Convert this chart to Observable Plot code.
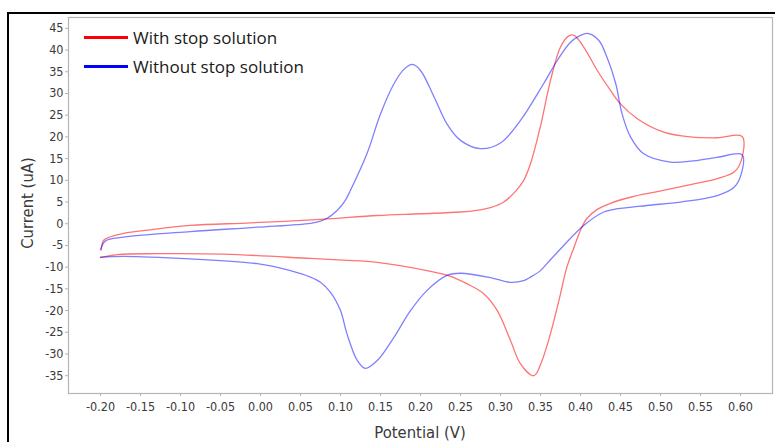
<!DOCTYPE html>
<html>
<head>
<meta charset="utf-8">
<script src="https://cdn.jsdelivr.net/npm/d3@7"></script>
<script src="https://cdn.jsdelivr.net/npm/@observablehq/plot@0.6"></script>
<style>
  html, body { margin: 0; padding: 0; background: #fff; }
  #wrap { position: relative; width: 775px; height: 442px; overflow: hidden; }
  #outer { position: absolute; left: 7px; top: 12px; width: 800px; height: 500px; border: 2px solid #000; box-sizing: border-box; }
  #chart { position: absolute; left: 0; top: 0; }
  .legend { position: absolute; left: 84px; font-family: "Open Sans", sans-serif; font-size: 17px; color: #1a1a1a; display: flex; align-items: center; }
  .legend span.sw { display: inline-block; width: 44px; height: 3px; margin-right: 5px; }
  .axt { position: absolute; font-family: "DejaVu Sans Condensed", "Liberation Sans", sans-serif; font-size: 16.5px; color: #3a3a3a; white-space: nowrap; }
</style>
</head>
<body>
<div id="wrap">
  <div id="outer"></div>
  <div id="chart"></div>
  <div class="legend" style="top:26px"><span class="sw" style="background:#ff0000"></span>With stop solution</div>
  <div class="legend" style="top:55px"><span class="sw" style="background:#0000ff"></span>Without stop solution</div>
  <div class="axt" id="xlab" style="left:420px; top:432px; transform: translate(-50%,-50%);">Potential (V)</div>
  <div class="axt" id="ylab" style="left:27px; top:203px; transform: translate(-50%,-50%) rotate(-90deg);">Current (uA)</div>
</div>
<script>
// Series names
const seriesNames = ["With stop solution", "Without stop solution"];

// With stop solution (red): potential (V), current (uA), in scan order
const redV = [-0.199, -0.196, -0.1875, -0.171, -0.1375, -0.0875, -0.0125, 0.075, 0.146, 0.200, 0.250, 0.275, 0.2875, 0.304, 0.319, 0.329, 0.3375, 0.350, 0.3625, 0.375, 0.385, 0.392, 0.404, 0.421, 0.4375, 0.450, 0.471, 0.504, 0.5375, 0.571, 0.602,
  0.601, 0.592, 0.571, 0.5375, 0.496, 0.4625, 0.4375, 0.421, 0.408, 0.400, 0.392, 0.383, 0.373, 0.3625, 0.352, 0.344, 0.340, 0.325, 0.3125, 0.296, 0.279, 0.258, 0.2375, 0.208, 0.146, 0.104, 0.0625, -0.046, -0.129, -0.179, -0.198, -0.200];
const redI = [-6.0, -3.8, -3.0, -2.2, -1.4, -0.4, 0.2, 1.0, 1.9, 2.3, 2.7, 3.2, 3.7, 5.0, 7.5, 10.0, 13.8, 22.5, 33.0, 40.7, 43.2, 43.4, 40.7, 35.3, 30.7, 27.6, 24.2, 21.1, 20.0, 19.8, 20.1,
  14.6, 11.9, 10.4, 9.0, 7.4, 6.1, 4.7, 3.3, 1.2, -1.5, -5.4, -10.0, -17.7, -25.3, -31.5, -34.7, -35.0, -32.3, -26.9, -20.0, -16.1, -13.8, -12.1, -10.8, -8.9, -8.4, -8.0, -7.0, -6.9, -7.1, -7.7, -7.8];

// Without stop solution (blue)
const blueV = [-0.200, -0.194, -0.171, -0.0875, -0.004, 0.0625, 0.075, 0.083, 0.096, 0.106, 0.1125, 0.133, 0.150, 0.167, 0.179, 0.190, 0.200, 0.217, 0.233, 0.250, 0.275, 0.300, 0.325, 0.354, 0.371, 0.3875, 0.400, 0.410, 0.423, 0.433, 0.444, 0.452, 0.4625, 0.479, 0.5125, 0.5375, 0.571, 0.602,
  0.601, 0.592, 0.571, 0.525, 0.483, 0.442, 0.429, 0.404, 0.379, 0.358, 0.350, 0.3375, 0.329, 0.3125, 0.2875, 0.250, 0.233, 0.208, 0.1875, 0.167, 0.146, 0.131, 0.121, 0.108, 0.100, 0.0875, 0.075, 0.0625, 0.0375, -0.004, -0.0875, -0.171, -0.200];
const blueI = [-6.0, -4.0, -3.1, -1.8, -0.8, 0.1, 0.6, 1.2, 3.1, 5.4, 7.7, 16.1, 25.3, 32.3, 35.5, 36.7, 35.3, 29.2, 23.0, 19.2, 17.3, 18.6, 23.8, 32.3, 37.6, 41.8, 43.4, 43.8, 42.2, 38.4, 32.3, 25.3, 20.0, 16.1, 14.2, 14.4, 15.3, 15.9,
  11.5, 8.4, 6.5, 5.0, 4.2, 3.3, 2.7, -0.4, -5.0, -9.2, -10.8, -12.3, -13.1, -13.5, -12.4, -11.4, -11.9, -15.4, -20.0, -26.1, -31.5, -33.3, -31.5, -25.3, -20.0, -15.8, -13.5, -12.3, -10.8, -9.2, -8.1, -7.5, -7.7];

// Tick values
const xTicks = [-0.20, -0.15, -0.10, -0.05, 0.00, 0.05, 0.10, 0.15, 0.20, 0.25, 0.30, 0.35, 0.40, 0.45, 0.50, 0.55, 0.60];
const yTicks = [-35, -30, -25, -20, -15, -10, -5, 0, 5, 10, 15, 20, 25, 30, 35, 40, 45];

const red = redV.map((v, i) => ({V: v, I: redI[i], s: seriesNames[0]}));
const blue = blueV.map((v, i) => ({V: v, I: blueI[i], s: seriesNames[1]}));

const tickFont = {fontFamily: "'DejaVu Sans Condensed', 'Liberation Sans', sans-serif", fontSize: 12.5, fill: "#3a3a3a"};

const chart = Plot.plot({
  width: 775,
  height: 442,
  marginLeft: 68,
  marginRight: 3,
  marginTop: 17,
  marginBottom: 49,
  style: {background: "transparent", overflow: "visible"},
  x: {domain: [-0.24, 0.64]},
  y: {domain: [-39.1, 47.5]},
  marks: [
    Plot.frame({stroke: "#b4b4b4", strokeWidth: 1.2}),
    Plot.line(red, {x: "V", y: "I", stroke: "#ff0000", strokeOpacity: 0.55, strokeWidth: 1.3, curve: "catmull-rom"}),
    Plot.line(blue, {x: "V", y: "I", stroke: "#0000ff", strokeOpacity: 0.5, strokeWidth: 1.3, curve: "catmull-rom"}),
    Plot.axisX({ticks: xTicks, tickFormat: d => d.toFixed(2), tickSize: 3, tickPadding: 6, label: null, stroke: "#b4b4b4", ...tickFont}),
    Plot.axisY({ticks: yTicks, tickFormat: d => String(d), tickSize: 3, tickPadding: 2, label: null, stroke: "#b4b4b4", ...tickFont})
  ]
});
document.getElementById("chart").appendChild(chart);
</script>
</body>
</html>
